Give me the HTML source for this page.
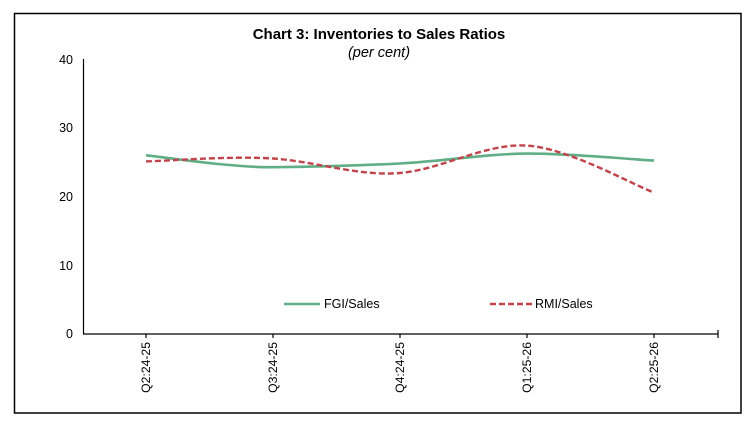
<!DOCTYPE html>
<html><head><meta charset="utf-8"><style>
body{margin:0;background:#fff;}
svg{display:block;font-family:"Liberation Sans",Arial,sans-serif;}
</style></head><body>
<svg width="752" height="424" viewBox="0 0 752 424">
<rect x="14.5" y="13.5" width="726.5" height="399.5" fill="none" stroke="#000" stroke-width="1.5"/>
<text x="379" y="39" text-anchor="middle" font-size="15" font-weight="bold">Chart 3: Inventories to Sales Ratios</text>
<text x="379" y="57" text-anchor="middle" font-size="14.5" font-style="italic">(per cent)</text>
<line x1="83.5" y1="59" x2="83.5" y2="334" stroke="#000" stroke-width="1.2"/>
<line x1="83" y1="334" x2="718.5" y2="334" stroke="#000" stroke-width="1.2"/>
<g stroke="#000" stroke-width="1.2">
<line x1="146" y1="334" x2="146" y2="338"/><line x1="273" y1="334" x2="273" y2="338"/>
<line x1="400" y1="334" x2="400" y2="338"/><line x1="527" y1="334" x2="527" y2="338"/>
<line x1="654" y1="334" x2="654" y2="338"/><line x1="718" y1="330" x2="718" y2="338"/>
</g>
<g font-size="12.5" text-anchor="end">
<text x="73" y="64">40</text><text x="73" y="132">30</text><text x="73" y="201">20</text>
<text x="73" y="270">10</text><text x="73" y="338">0</text>
</g>
<g font-size="12.2" text-anchor="end">
<text transform="translate(150,342) rotate(-90)">Q2:24-25</text>
<text transform="translate(277,342) rotate(-90)">Q3:24-25</text>
<text transform="translate(404,342) rotate(-90)">Q4:24-25</text>
<text transform="translate(531,342) rotate(-90)">Q1:25-26</text>
<text transform="translate(658,342) rotate(-90)">Q2:25-26</text>
</g>
<path d="M146,155.3 C167,157.4 231,167.6 273,167.2 C315,166.8 358,165.6 400,163.5 C442,161.4 485,153.9 527,153.6 C569,153.3 633,159.6 654,160.5" fill="none" stroke="#5fae85" stroke-width="2.6"/>
<path d="M146,161.4 C167,161 231,155.7 273,158.5 C315,161.3 358,176.5 400,173 C442,169.5 485,143 527,145.6 C569,148.2 633,185 654,192.5" fill="none" stroke="#c0444a" stroke-width="2.4" stroke-dasharray="6,3"/>
<line x1="284" y1="304" x2="320" y2="304" stroke="#5fae85" stroke-width="2.6"/>
<text x="324" y="308" font-size="12.5">FGI/Sales</text>
<line x1="490" y1="304" x2="533" y2="304" stroke="#c0444a" stroke-width="2.4" stroke-dasharray="6,3"/>
<text x="535" y="308" font-size="12.5">RMI/Sales</text>
</svg>
</body></html>
